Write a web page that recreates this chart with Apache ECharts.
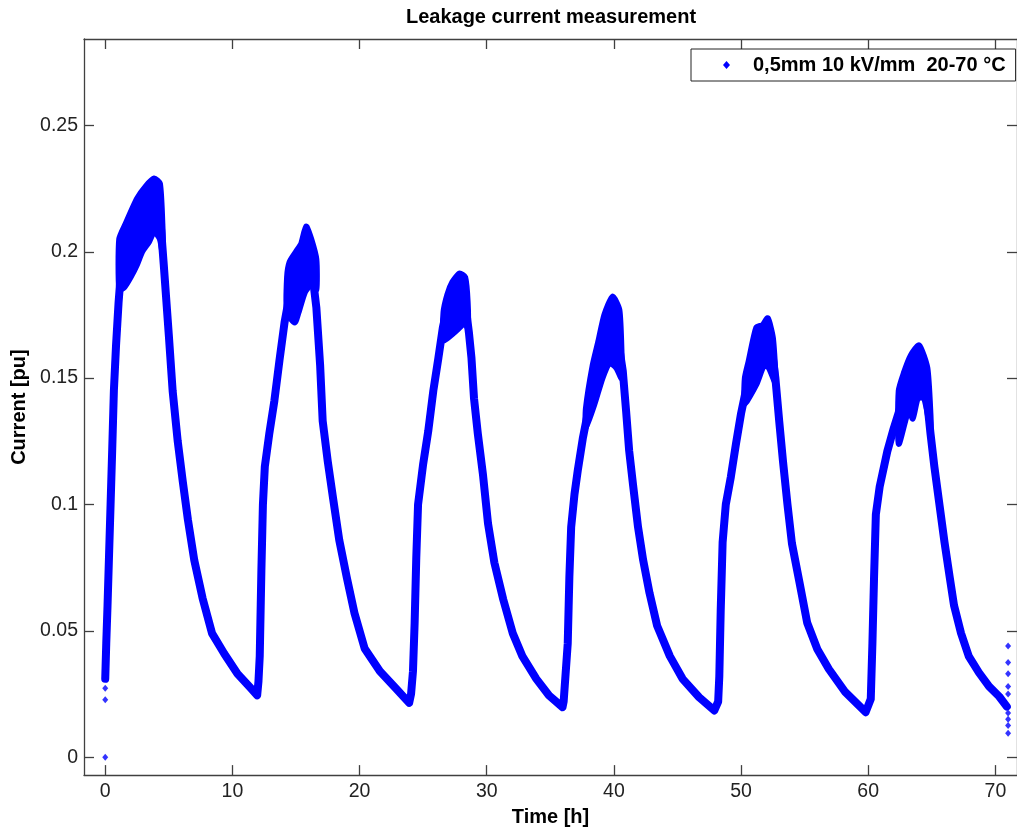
<!DOCTYPE html>
<html>
<head>
<meta charset="utf-8">
<script src="https://cdn.jsdelivr.net/npm/echarts@6/dist/echarts.min.js"></script>
<style>
html,body{margin:0;padding:0;background:#fff;overflow:hidden;}
#chart{position:absolute;left:0;top:0;width:1017px;height:832px;}
</style>
</head>
<body>
<div id="chart"></div>
<script>
// ---- data (time [h], current [pu]) ----
const xTicks = [0, 10, 20, 30, 40, 50, 60, 70];
const yTicks = [0, 0.05, 0.1, 0.15, 0.2, 0.25];

const cycle1 = [[0,0.031],[0.08,0.045],[0.18,0.06],[0.3,0.08],[0.42,0.1],[0.55,0.122],[0.68,0.145],[0.85,0.163],[1.05,0.18],[1.25,0.193],[1.6,0.198],[2.0,0.203],[2.5,0.208],[3.0,0.213],[3.4,0.216],[3.85,0.22],[4.3,0.215],[4.6,0.195],[5.0,0.167],[5.3,0.145],[5.7,0.125],[6.1,0.109],[6.5,0.094],[7.0,0.078],[7.65,0.063],[8.4,0.049],[9.35,0.041],[10.4,0.033],[11.4,0.0276],[11.95,0.0245]];
const cycle2 = [[12.05,0.03],[12.15,0.04],[12.28,0.074],[12.4,0.1],[12.55,0.115],[12.9,0.128],[13.3,0.141],[13.7,0.157],[14.1,0.172],[14.5,0.183],[14.9,0.19],[15.4,0.197],[15.8,0.203],[16.2,0.195],[16.6,0.178],[16.9,0.155],[17.1,0.133],[17.5,0.117],[17.9,0.103],[18.4,0.086],[19.0,0.071],[19.6,0.057],[20.4,0.043],[21.6,0.034],[22.9,0.027],[23.9,0.0215]];
const cycle3 = [[24.05,0.025],[24.2,0.034],[24.33,0.053],[24.46,0.079],[24.6,0.1],[25.0,0.116],[25.4,0.129],[25.8,0.145],[26.2,0.158],[26.55,0.17],[26.9,0.178],[27.3,0.182],[27.86,0.185],[28.3,0.18],[28.6,0.168],[28.8,0.158],[29.0,0.142],[29.3,0.128],[29.7,0.112],[30.1,0.0925],[30.6,0.077],[31.3,0.0624],[32.05,0.049],[32.8,0.04],[33.9,0.031],[34.9,0.0244],[35.96,0.0198]];
const cycle4 = [[36.05,0.022],[36.37,0.045],[36.5,0.0715],[36.64,0.091],[36.9,0.104],[37.16,0.1135],[37.55,0.126],[37.94,0.136],[38.33,0.148],[38.73,0.158],[39.25,0.166],[39.9,0.172],[40.3,0.166],[40.7,0.1528],[40.96,0.137],[41.2,0.1213],[41.5,0.108],[41.9,0.091],[42.3,0.078],[42.8,0.065],[43.4,0.052],[44.4,0.04],[45.4,0.031],[46.7,0.0237],[47.9,0.0185]];
const cycle5 = [[48.2,0.022],[48.29,0.032],[48.4,0.058],[48.55,0.085],[48.8,0.1],[49.2,0.111],[49.6,0.124],[50.0,0.136],[50.5,0.148],[51.2,0.158],[52.1,0.164],[52.5,0.158],[52.7,0.15],[53.0,0.133],[53.3,0.117],[53.65,0.1],[54.0,0.0846],[54.6,0.069],[55.2,0.0532],[56.0,0.0427],[56.9,0.0349],[58.2,0.0257],[59.8,0.0178]];
const cycle6 = [[60.2,0.023],[60.33,0.045],[60.46,0.0715],[60.6,0.096],[60.9,0.107],[61.5,0.121],[62.0,0.13],[62.5,0.138],[63.0,0.145],[63.5,0.15],[64.0,0.153],[64.4,0.148],[64.65,0.14],[64.9,0.128],[65.2,0.115],[65.6,0.1],[66.0,0.085],[66.4,0.0715],[66.75,0.06],[67.3,0.049],[67.9,0.04],[68.7,0.0335],[69.5,0.028],[70.3,0.024],[70.9,0.02]];

// noisy spread around the peaks: upper and lower edges
const bandUpper1 = [[1.1,0.205],[1.6,0.211],[2.5,0.221],[3.2,0.226],[3.85,0.229],[4.3,0.227],[4.5,0.21]];
const bandLower1 = [[1.1,0.185],[1.5,0.186],[2.0,0.19],[2.5,0.195],[2.9,0.2],[3.45,0.204],[3.85,0.208],[4.3,0.205],[4.5,0.2]];
const bandUpper2 = [[14.3,0.19],[14.5,0.196],[15.0,0.2],[15.4,0.203],[15.8,0.21],[16.2,0.205],[16.6,0.197]];
const bandLower2 = [[14.3,0.176],[14.9,0.172],[15.2,0.176],[15.7,0.184],[16.2,0.187],[16.6,0.185]];
const bandUpper3 = [[26.6,0.176],[26.9,0.183],[27.3,0.188],[27.86,0.1914],[28.3,0.19],[28.5,0.18]];
const bandLower3 = [[26.6,0.165],[27.2,0.167],[27.86,0.17],[28.3,0.172],[28.5,0.17]];
const bandUpper4 = [[37.8,0.138],[38.33,0.155],[38.8,0.165],[39.25,0.175],[39.9,0.1823],[40.43,0.177],[40.6,0.16]];
const bandLower4 = [[37.8,0.1305],[38.47,0.1397],[39.1,0.15],[39.65,0.156],[40.2,0.154],[40.6,0.15]];
const bandUpper5 = [[50.3,0.15],[50.6,0.1567],[51.2,0.17],[51.7,0.171],[52.1,0.1737],[52.5,0.166],[52.7,0.152]];
const bandLower5 = [[50.3,0.14],[51.2,0.1475],[51.8,0.155],[52.2,0.154],[52.7,0.148]];
const bandUpper6 = [[62.4,0.145],[62.8,0.152],[63.35,0.159],[64.0,0.163],[64.65,0.154],[64.9,0.135]];
const bandLower6 = [[62.4,0.124],[63.2,0.138],[63.5,0.134],[63.9,0.142],[64.4,0.142],[64.9,0.13]];

// isolated samples at the start and end of the record
const loosePoints = [[0,0],[0,0.0227],[0,0.0273],[71.0,0.044],[71.0,0.0375],[71.0,0.033],[71.0,0.028],[71.0,0.025],[71.0,0.0175],[71.0,0.015],[71.0,0.0125],[71.0,0.0095]];

const seriesName = '0,5mm 10 kV/mm  20-70 °C';
// -----------------------------------------------------------------

const trace = [].concat(cycle1, cycle2, cycle3, cycle4, cycle5, cycle6);
const bands = [
  [bandUpper1, bandLower1], [bandUpper2, bandLower2], [bandUpper3, bandLower3],
  [bandUpper4, bandLower4], [bandUpper5, bandLower5], [bandUpper6, bandLower6]
];
const bandItems = bands.map((b, i) => [b[0][0][0], b[0][0][1], i]);

const BLUE = '#0000ff';
const AX = '#404040';
const FONT = 'Liberation Sans, Arial, Helvetica, sans-serif';

const chart = echarts.init(document.getElementById('chart'), null, {renderer: 'canvas', width: 1017, height: 832});

const xBase = {
  type: 'value', min: -1.67, max: 71.7,
  splitLine: {show: false},
  axisLine: {show: true, onZero: false, lineStyle: {color: AX, width: 1.3}},
  axisTick: {show: true, inside: true, length: 10, lineStyle: {color: AX, width: 1.3}, customValues: xTicks},
};
const yBase = {
  type: 'value', min: -0.0071, max: 0.2842,
  splitLine: {show: false},
  axisLine: {show: true, onZero: false, lineStyle: {color: AX, width: 1.3}},
  axisTick: {show: true, inside: true, length: 10, lineStyle: {color: AX, width: 1.3}, customValues: yTicks},
};

chart.setOption({
  animation: false,
  backgroundColor: '#fff',
  title: {
    text: 'Leakage current measurement',
    left: 551, top: 7, padding: 0, textAlign: 'center',
    textStyle: {fontFamily: FONT, fontSize: 20, fontWeight: 'bold', color: '#000'}
  },
  grid: {left: 84, top: 39, width: 934, height: 741, containLabel: false},
  legend: {
    data: [{name: seriesName, icon: 'diamond'}],
    left: 691, top: 49,
    itemWidth: 7, itemHeight: 8,
    padding: [6, 10, 6, 32],
    backgroundColor: '#fff',
    borderColor: '#222', borderWidth: 1, borderRadius: 0,
    textStyle: {fontFamily: FONT, fontSize: 20, fontWeight: 'bold', color: '#000', padding: [0, 0, 0, 18]}
  },
  xAxis: [
    Object.assign({}, xBase, {
      position: 'bottom',
      name: 'Time [h]', nameLocation: 'middle', nameGap: 29,
      nameTextStyle: {fontFamily: FONT, fontSize: 20, fontWeight: 'bold', color: '#000'},
      axisLabel: {show: true, margin: 7, fontFamily: FONT, fontSize: 19.5, color: '#222', customValues: xTicks}
    }),
    Object.assign({}, xBase, {position: 'top', axisLabel: {show: false}})
  ],
  yAxis: [
    Object.assign({}, yBase, {
      position: 'left',
      name: 'Current [pu]', nameLocation: 'middle', nameGap: 54,
      nameTextStyle: {fontFamily: FONT, fontSize: 20, fontWeight: 'bold', color: '#000'},
      axisLabel: {show: true, margin: 6, fontFamily: FONT, fontSize: 19.5, color: '#222', customValues: yTicks,
        formatter: v => String(Math.round(v * 1000) / 1000)}
    }),
    Object.assign({}, yBase, {position: 'right', axisLabel: {show: false}})
  ],
  series: [
    {
      name: seriesName, type: 'line', xAxisIndex: 0, yAxisIndex: 0,
      data: trace, showSymbol: false, symbol: 'diamond', symbolSize: 6,
      smooth: false,
      itemStyle: {color: BLUE},
      lineStyle: {color: BLUE, width: 8, cap: 'round', join: 'round'},
      z: 3
    },
    {
      name: 'peakSpread', type: 'custom', xAxisIndex: 0, yAxisIndex: 0,
      data: bandItems, encode: {x: 0, y: 1},
      renderItem: function (params, api) {
        const b = bands[api.value(2)];
        const pts = b[0].map(p => api.coord(p)).concat(b[1].slice().reverse().map(p => api.coord(p)));
        return {
          type: 'polygon',
          shape: {points: pts, smooth: 0.2},
          style: {fill: BLUE, stroke: BLUE, lineWidth: 6, lineJoin: 'round'}
        };
      },
      z: 3
    },
    {
      name: 'loose', type: 'scatter', xAxisIndex: 0, yAxisIndex: 0,
      data: loosePoints, symbol: 'diamond', symbolSize: [6, 7],
      itemStyle: {color: BLUE}, z: 3
    }
  ]
});
</script>
</body>
</html>
